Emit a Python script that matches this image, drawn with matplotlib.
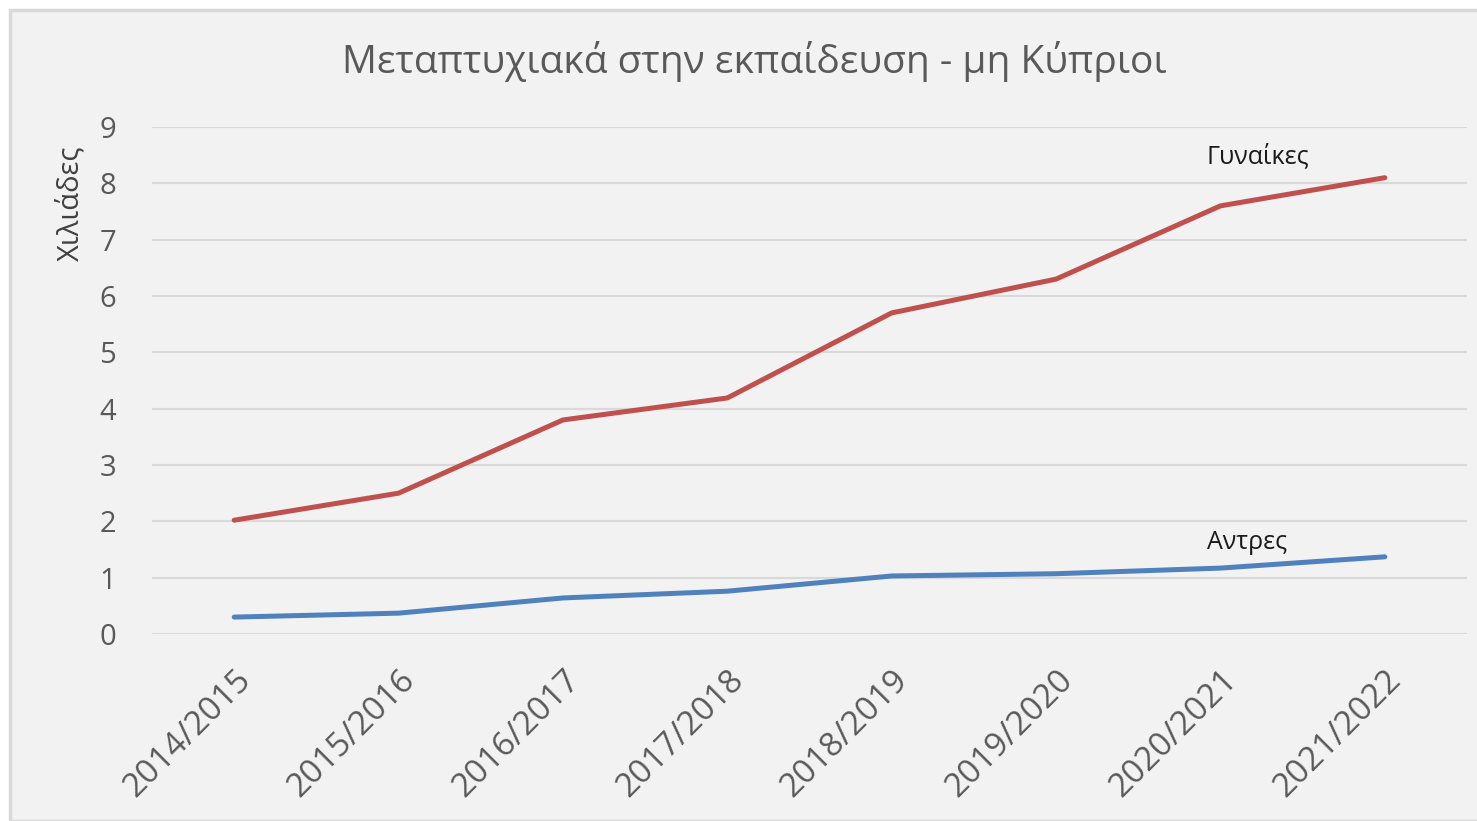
import matplotlib.pyplot as plt
from matplotlib.patches import Rectangle

years = ["2014/2015", "2015/2016", "2016/2017", "2017/2018",
         "2018/2019", "2019/2020", "2020/2021", "2021/2022"]
women = [2.02, 2.5, 3.8, 4.19, 5.7, 6.3, 7.6, 8.1]
men = [0.3, 0.37, 0.64, 0.76, 1.03, 1.07, 1.17, 1.37]

plt.rcParams['font.family'] = ['Open Sans', 'DejaVu Sans']

fig = plt.figure(figsize=(14.77, 8.21), dpi=100)
fig.patch.set_facecolor("white")
# chart area box
fig.patches.append(Rectangle((10 / 1477, 0), 1.0, 1 - 10 / 821, transform=fig.transFigure,
                             facecolor="#f2f2f2", edgecolor="#d9d9d9", linewidth=2.5, zorder=-5))

ax = fig.add_axes([152 / 1477, 1 - 634 / 821, (1467 - 152) / 1477, (634 - 127) / 821])
ax.set_facecolor("none")
ax.set_zorder(2)

x = range(len(years))
ax.plot(x, women, color="#c0504d", linewidth=3.6, solid_capstyle="round")
ax.plot(x, men, color="#4f81bd", linewidth=3.6, solid_capstyle="round")

ax.set_xlim(-0.5, len(years) - 0.5)
ax.set_ylim(0, 9)
ax.set_yticks(range(10))
ax.set_xticks(list(x))
ax.set_xticklabels(years, rotation=45, ha="right", rotation_mode="anchor")
ax.tick_params(axis="both", length=0, labelcolor="#595959")
ax.tick_params(axis="x", pad=21, labelsize=24)
ax.tick_params(axis="y", pad=32, labelsize=21)
for lbl in ax.get_yticklabels():
    lbl.set_horizontalalignment("center")
ax.grid(axis="y", color="#d9d9d9", linewidth=1.5)
ax.set_axisbelow(True)
for s in ax.spines.values():
    s.set_visible(False)

ax.set_ylabel("Χιλιάδες", fontsize=21, color="#404040")
ax.yaxis.set_label_coords(-0.051, 0.85)

ax.text(7 - 0.77, 8.47, "Γυναίκες", fontsize=18, color="#1a1a1a", ha="center", va="center")
ax.text(7 - 0.84, 1.62, "Αντρες", fontsize=18, color="#1a1a1a", ha="center", va="center")

fig.text(754 / 1477, 1 - 61 / 821, "Μεταπτυχιακά στην εκπαίδευση - μη Κύπριοι",
         fontsize=28, color="#595959", ha="center", va="center")

fig.savefig("out.png", dpi=100)
